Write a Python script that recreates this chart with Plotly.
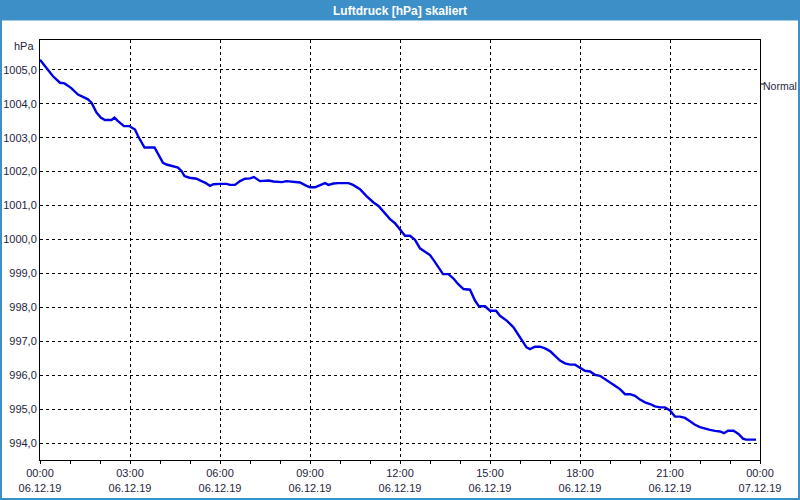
import plotly.graph_objects as go

# ---- data ----
times = ["00:00","00:16","00:26","00:40","00:49","01:02","01:16","01:29","01:36","01:43",
         "01:53","02:02","02:10","02:23","02:29","02:36","02:48","02:59","03:10","03:16",
         "03:23","03:29","03:49","03:56","04:06","04:13","04:23","04:36","04:43","04:49",
         "04:59","05:13","05:23","05:32","05:40","05:47","06:00","06:13","06:20","06:30",
         "06:40","06:50","07:00","07:08","07:20","07:30","07:37","07:47","08:04","08:13",
         "08:26","08:40","08:53","09:00","09:10","09:20","09:30","09:37","09:47","09:56",
         "10:17","10:26","10:40","10:53","11:07","11:17","11:26","11:40","11:50","12:00",
         "12:10","12:20","12:30","12:40","12:50","13:00","13:07","13:17","13:26","13:37",
         "13:47","13:56","14:07","14:20","14:30","14:38","14:50","15:00","15:12","15:20",
         "15:34","15:47","16:00","16:07","16:13","16:20","16:30","16:40","16:50","17:00",
         "17:10","17:20","17:30","17:40","17:50","18:00","18:10","18:20","18:30","18:40",
         "18:50","19:00","19:10","19:20","19:30","19:40","19:50","20:00","20:10","20:20",
         "20:30","20:40","20:50","21:00","21:10","21:20","21:30","21:40","21:50","22:00",
         "22:10","22:20","22:30","22:40","22:48","22:56","23:07","23:17","23:26","23:32",
         "23:52"]
pressure = [1005.30,1005.00,1004.81,1004.62,1004.60,1004.47,1004.27,1004.18,1004.13,1004.03,
            1003.74,1003.59,1003.52,1003.52,1003.59,1003.49,1003.34,1003.34,1003.24,1003.05,
            1002.85,1002.71,1002.71,1002.51,1002.26,1002.21,1002.18,1002.12,1002.02,1001.87,
            1001.82,1001.79,1001.72,1001.66,1001.58,1001.63,1001.64,1001.64,1001.61,1001.61,
            1001.72,1001.79,1001.80,1001.84,1001.72,1001.72,1001.74,1001.71,1001.69,1001.72,
            1001.69,1001.68,1001.58,1001.54,1001.54,1001.60,1001.66,1001.61,1001.65,1001.66,
            1001.66,1001.61,1001.48,1001.28,1001.09,1000.99,1000.84,1000.60,1000.48,1000.30,
            1000.11,1000.11,999.99,999.74,999.64,999.54,999.40,999.18,998.98,998.98,
            998.85,998.69,998.54,998.52,998.20,998.03,998.03,997.90,997.90,997.75,
            997.60,997.41,997.12,996.97,996.82,996.77,996.84,996.84,996.79,996.71,
            996.56,996.43,996.35,996.31,996.31,996.23,996.13,996.11,996.01,995.98,
            995.89,995.79,995.69,995.59,995.44,995.44,995.39,995.28,995.20,995.15,
            995.08,995.05,995.05,994.96,994.78,994.78,994.74,994.64,994.54,994.47,
            994.42,994.39,994.36,994.34,994.29,994.36,994.36,994.27,994.13,994.10,
            994.10]
day = "2019-12-06"
x_tick_times = ["2019-12-06 00:00","2019-12-06 03:00","2019-12-06 06:00","2019-12-06 09:00",
                "2019-12-06 12:00","2019-12-06 15:00","2019-12-06 18:00","2019-12-06 21:00",
                "2019-12-07 00:00"]
x_tick_labels = ["00:00<br>06.12.19","03:00<br>06.12.19","06:00<br>06.12.19","09:00<br>06.12.19",
                 "12:00<br>06.12.19","15:00<br>06.12.19","18:00<br>06.12.19","21:00<br>06.12.19",
                 "00:00<br>07.12.19"]
y_tick_vals = [994,995,996,997,998,999,1000,1001,1002,1003,1004,1005]
y_tick_labels = [f"{v:.1f}".replace(".", ",") for v in y_tick_vals]
title_text = "Luftdruck [hPa] skaliert"
unit_text = "hPa"
legend_text = "Normal"

x = [f"{day} {t}" for t in times]

W, H = 800, 500
L, R, T, B = 40, 40, 40, 40
pw, ph = W - L - R, H - T - B
def px(v):
    return (v - L) / pw
def py(v):
    return (H - B - v) / ph

TEXT = "#1e1e3c"
BLUE_BAR = "#3c8fc7"
FONT = "Liberation Sans"

fig = go.Figure()
fig.add_trace(go.Scatter(x=x, y=pressure, mode="lines",
                         line=dict(color="#0000e6", width=2.4),
                         showlegend=False, hoverinfo="skip"))

fig.update_layout(
    width=W, height=H,
    margin=dict(l=L, r=R, t=T, b=B, pad=0, autoexpand=False),
    paper_bgcolor="white", plot_bgcolor="white",
    font=dict(family=FONT, size=11, color=TEXT),
    showlegend=False,
)
fig.update_xaxes(
    type="date", automargin=False,
    range=["2019-12-06 00:00", "2019-12-07 00:00"],
    tickmode="array", tickvals=x_tick_times, ticktext=x_tick_labels,
    ticks="outside", ticklen=3, tickcolor="black",
    showline=True, linecolor="black", linewidth=1, mirror=True,
    showgrid=True, gridcolor="black", gridwidth=1, griddash="3px,3px",
    minor=dict(dtick=3600000, tick0="2019-12-06 00:00", ticks="outside",
               ticklen=3, tickcolor="black", showgrid=False),
    tickfont=dict(family=FONT, size=11, color=TEXT),
    zeroline=False,
)
fig.update_yaxes(
    automargin=False,
    range=[993.5, 1005.88],
    tickmode="array", tickvals=y_tick_vals, ticktext=y_tick_labels,
    ticks="", showline=True, linecolor="black", linewidth=1, mirror=True,
    showgrid=True, gridcolor="black", gridwidth=1, griddash="3px,3px",
    tickfont=dict(family=FONT, size=11, color=TEXT),
    zeroline=False,
)

shapes = [
    # title bar
    dict(type="rect", xref="paper", yref="paper", x0=px(0), x1=px(800), y0=py(20.5), y1=py(0),
         fillcolor=BLUE_BAR, line=dict(width=0), layer="below"),
    # window border left, right, bottom
    dict(type="rect", xref="paper", yref="paper", x0=px(0), x1=px(2), y0=py(500), y1=py(0),
         fillcolor=BLUE_BAR, line=dict(width=0)),
    dict(type="rect", xref="paper", yref="paper", x0=px(798), x1=px(800), y0=py(500), y1=py(0),
         fillcolor=BLUE_BAR, line=dict(width=0)),
    dict(type="rect", xref="paper", yref="paper", x0=px(0), x1=px(800), y0=py(500), y1=py(498),
         fillcolor=BLUE_BAR, line=dict(width=0)),
    # small legend tick
    dict(type="line", xref="paper", yref="paper", x0=px(761), x1=px(764), y0=py(84), y1=py(84),
         line=dict(color="black", width=1)),
]
fig.update_layout(shapes=shapes)

fig.add_annotation(text=f"<b>{title_text}</b>", xref="paper", yref="paper",
                   x=0.5, y=py(10.5), xanchor="center", yanchor="middle", showarrow=False,
                   font=dict(family=FONT, size=12, color="white"))
fig.add_annotation(text=unit_text, xref="paper", yref="paper",
                   x=px(36), y=py(46), xanchor="right", yanchor="middle", showarrow=False,
                   font=dict(family=FONT, size=11, color=TEXT))
fig.add_annotation(text=legend_text, xref="paper", yref="paper",
                   x=px(762), y=py(86), xanchor="left", yanchor="middle", showarrow=False,
                   borderpad=0, font=dict(family=FONT, size=10.5, color=TEXT))

fig.write_html("out.html", config={"displayModeBar": False},
               post_script="document.body.style.margin='0';document.body.style.overflow='hidden';")
